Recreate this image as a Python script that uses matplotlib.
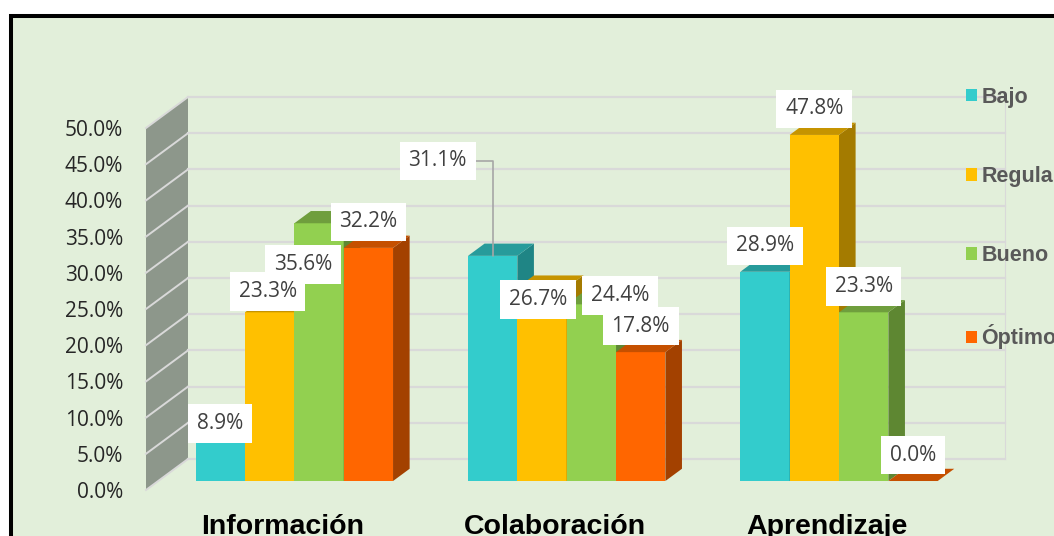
import matplotlib
matplotlib.use('Agg')
import matplotlib.pyplot as plt
from matplotlib.patches import Polygon, Rectangle, Patch

# data
categories = ['Información', 'Colaboración', 'Aprendizaje']
levels = ['Bajo', 'Regular', 'Bueno', 'Óptimo']
bajo = [8.9, 31.1, 28.9]
regular = [23.3, 26.7, 47.8]
bueno = [35.6, 24.4, 23.3]
optimo = [32.2, 17.8, 0.0]
y_ticks = [0, 5, 10, 15, 20, 25, 30, 35, 40, 45, 50]

series = [bajo, regular, bueno, optimo]
front_colors = ['#33CCCC', '#FFC000', '#92D050', '#FF6600']
top_colors = ['#279B9B', '#C69400', '#6F9E3D', '#C55000']
side_colors = ['#1F8585', '#A47B00', '#5E8732', '#A34100']

# label shifts from the bar top (pixels), per series
label_shift = [
    [(0, -7), (-55, 95), (0, 26)],
    [(-2, 21), (-4, -12), (0, 26)],
    [(-16, -41), (29, 9), (0, 26)],
    [(0, 26), (0, 26), (0, 26)],
]

W, H = 1054, 536
fig = plt.figure(figsize=(W / 100, H / 100), dpi=100)
fig.patch.set_facecolor('white')
fig.add_artist(Rectangle((10.5 / W, -0.2), 1.5, (H - 15.5) / H + 0.2,
                         transform=fig.transFigure, facecolor='#E2EFDA',
                         edgecolor='black', lw=2.9, zorder=-10))

ax = fig.add_axes([146 / W, 46 / H, 817 / W, 362 / H])
ax.set_xlim(-0.5, 2.5)
ax.set_ylim(0, 50)
ax.patch.set_visible(False)
for s in ax.spines.values():
    s.set_visible(False)
ax.set_xticks([])
ax.set_yticks(y_ticks)
ax.set_yticklabels(['{:.1f}%'.format(v) for v in y_ticks])
ax.tick_params(axis='y', length=0, pad=16.5, labelsize=15, labelcolor='#262626')
for t in ax.get_yticklabels():
    t.set_fontfamily('Open Sans')

# depth of the 3d box in data units
DX = 42 / (817 / 3)
DY = 31 / (362 / 50)


def p(x, y, d):
    return (x + d * DX, y + d * DY)


grid_c = '#D9D9D9'
# side wall
ax.add_patch(Polygon([p(-0.5, 0, 0), p(-0.5, 0, 1), p(-0.5, 50, 1), p(-0.5, 50, 0)],
                     closed=True, facecolor='#8D978B', edgecolor='none', clip_on=False, zorder=1))
for v in y_ticks:
    a, b = p(-0.5, v, 0), p(-0.5, v, 1)
    ax.plot([a[0], b[0]], [a[1], b[1]], color=grid_c, lw=1.4, clip_on=False, zorder=2)
    a, b = p(-0.5, v, 1), p(2.5, v, 1)
    ax.plot([a[0], b[0]], [a[1], b[1]], color=grid_c, lw=1.6, clip_on=False, zorder=2)
a, b = p(2.5, 0, 1), p(2.5, 50, 1)
ax.plot([a[0], b[0]], [a[1], b[1]], color=grid_c, lw=0.8, clip_on=False, zorder=2)

# bars
bw = 0.7248 / 4
d0, d1 = 0.29, 0.685
z = 3
tops = {}
for i in range(len(categories)):
    for j, vals in enumerate(series):
        h = vals[i]
        x0 = i - 2 * bw + j * bw
        x1 = x0 + bw
        front = [p(x0, 0, d0), p(x1, 0, d0), p(x1, h, d0), p(x0, h, d0)]
        side = [p(x1, 0, d0), p(x1, 0, d1), p(x1, h, d1), p(x1, h, d0)]
        top = [p(x0, h, d0), p(x1, h, d0), p(x1, h, d1), p(x0, h, d1)]
        ax.add_patch(Polygon(front, closed=True, facecolor=front_colors[j],
                             edgecolor='none', clip_on=False, zorder=z))
        ax.add_patch(Polygon(side, closed=True, facecolor=side_colors[j],
                             edgecolor='none', clip_on=False, zorder=z))
        ax.add_patch(Polygon(top, closed=True, facecolor=top_colors[j],
                             edgecolor='none', clip_on=False, zorder=z))
        z += 1
        tops[(i, j)] = p((x0 + x1) / 2, h, d0)

# data labels
for i in range(len(categories)):
    for j, vals in enumerate(series):
        dx, dy = label_shift[j][i]
        kw = {}
        if dy > 60:
            kw['arrowprops'] = dict(arrowstyle='-', color='#A6A6A6', lw=1.2,
                                    connectionstyle='angle,angleA=0,angleB=90,rad=0',
                                    shrinkA=0, shrinkB=0)
        ax.annotate('{:.1f}%'.format(vals[i]), xy=tops[(i, j)], xytext=(dx, dy),
                    textcoords='offset pixels', ha='center', va='center',
                    fontsize=15, family='Open Sans', color='#404040', zorder=60 - j,
                    bbox=dict(boxstyle='square,pad=0.42', facecolor='white', edgecolor='none'),
                    annotation_clip=False, **kw)

# category labels
for i, c in enumerate(categories):
    ax.annotate(c, xy=(i, 0), xytext=(0, -44), textcoords='offset pixels',
                ha='center', va='baseline', fontsize=20.5, fontweight='bold',
                family='Liberation Sans', color='black', annotation_clip=False)

handles = [Patch(facecolor=c, edgecolor='none') for c in front_colors]
fig.legend(handles, levels, loc='upper left', bbox_to_anchor=(966 / W, 1 - 87 / H),
           frameon=False, prop=dict(family='Liberation Sans', weight='bold', size=15.5),
           labelcolor='#595959', handlelength=0.5, handleheight=0.5,
           handletextpad=0.22, labelspacing=2.70, borderpad=0, borderaxespad=0)

fig.savefig('out.png', dpi=100, facecolor=fig.get_facecolor())
